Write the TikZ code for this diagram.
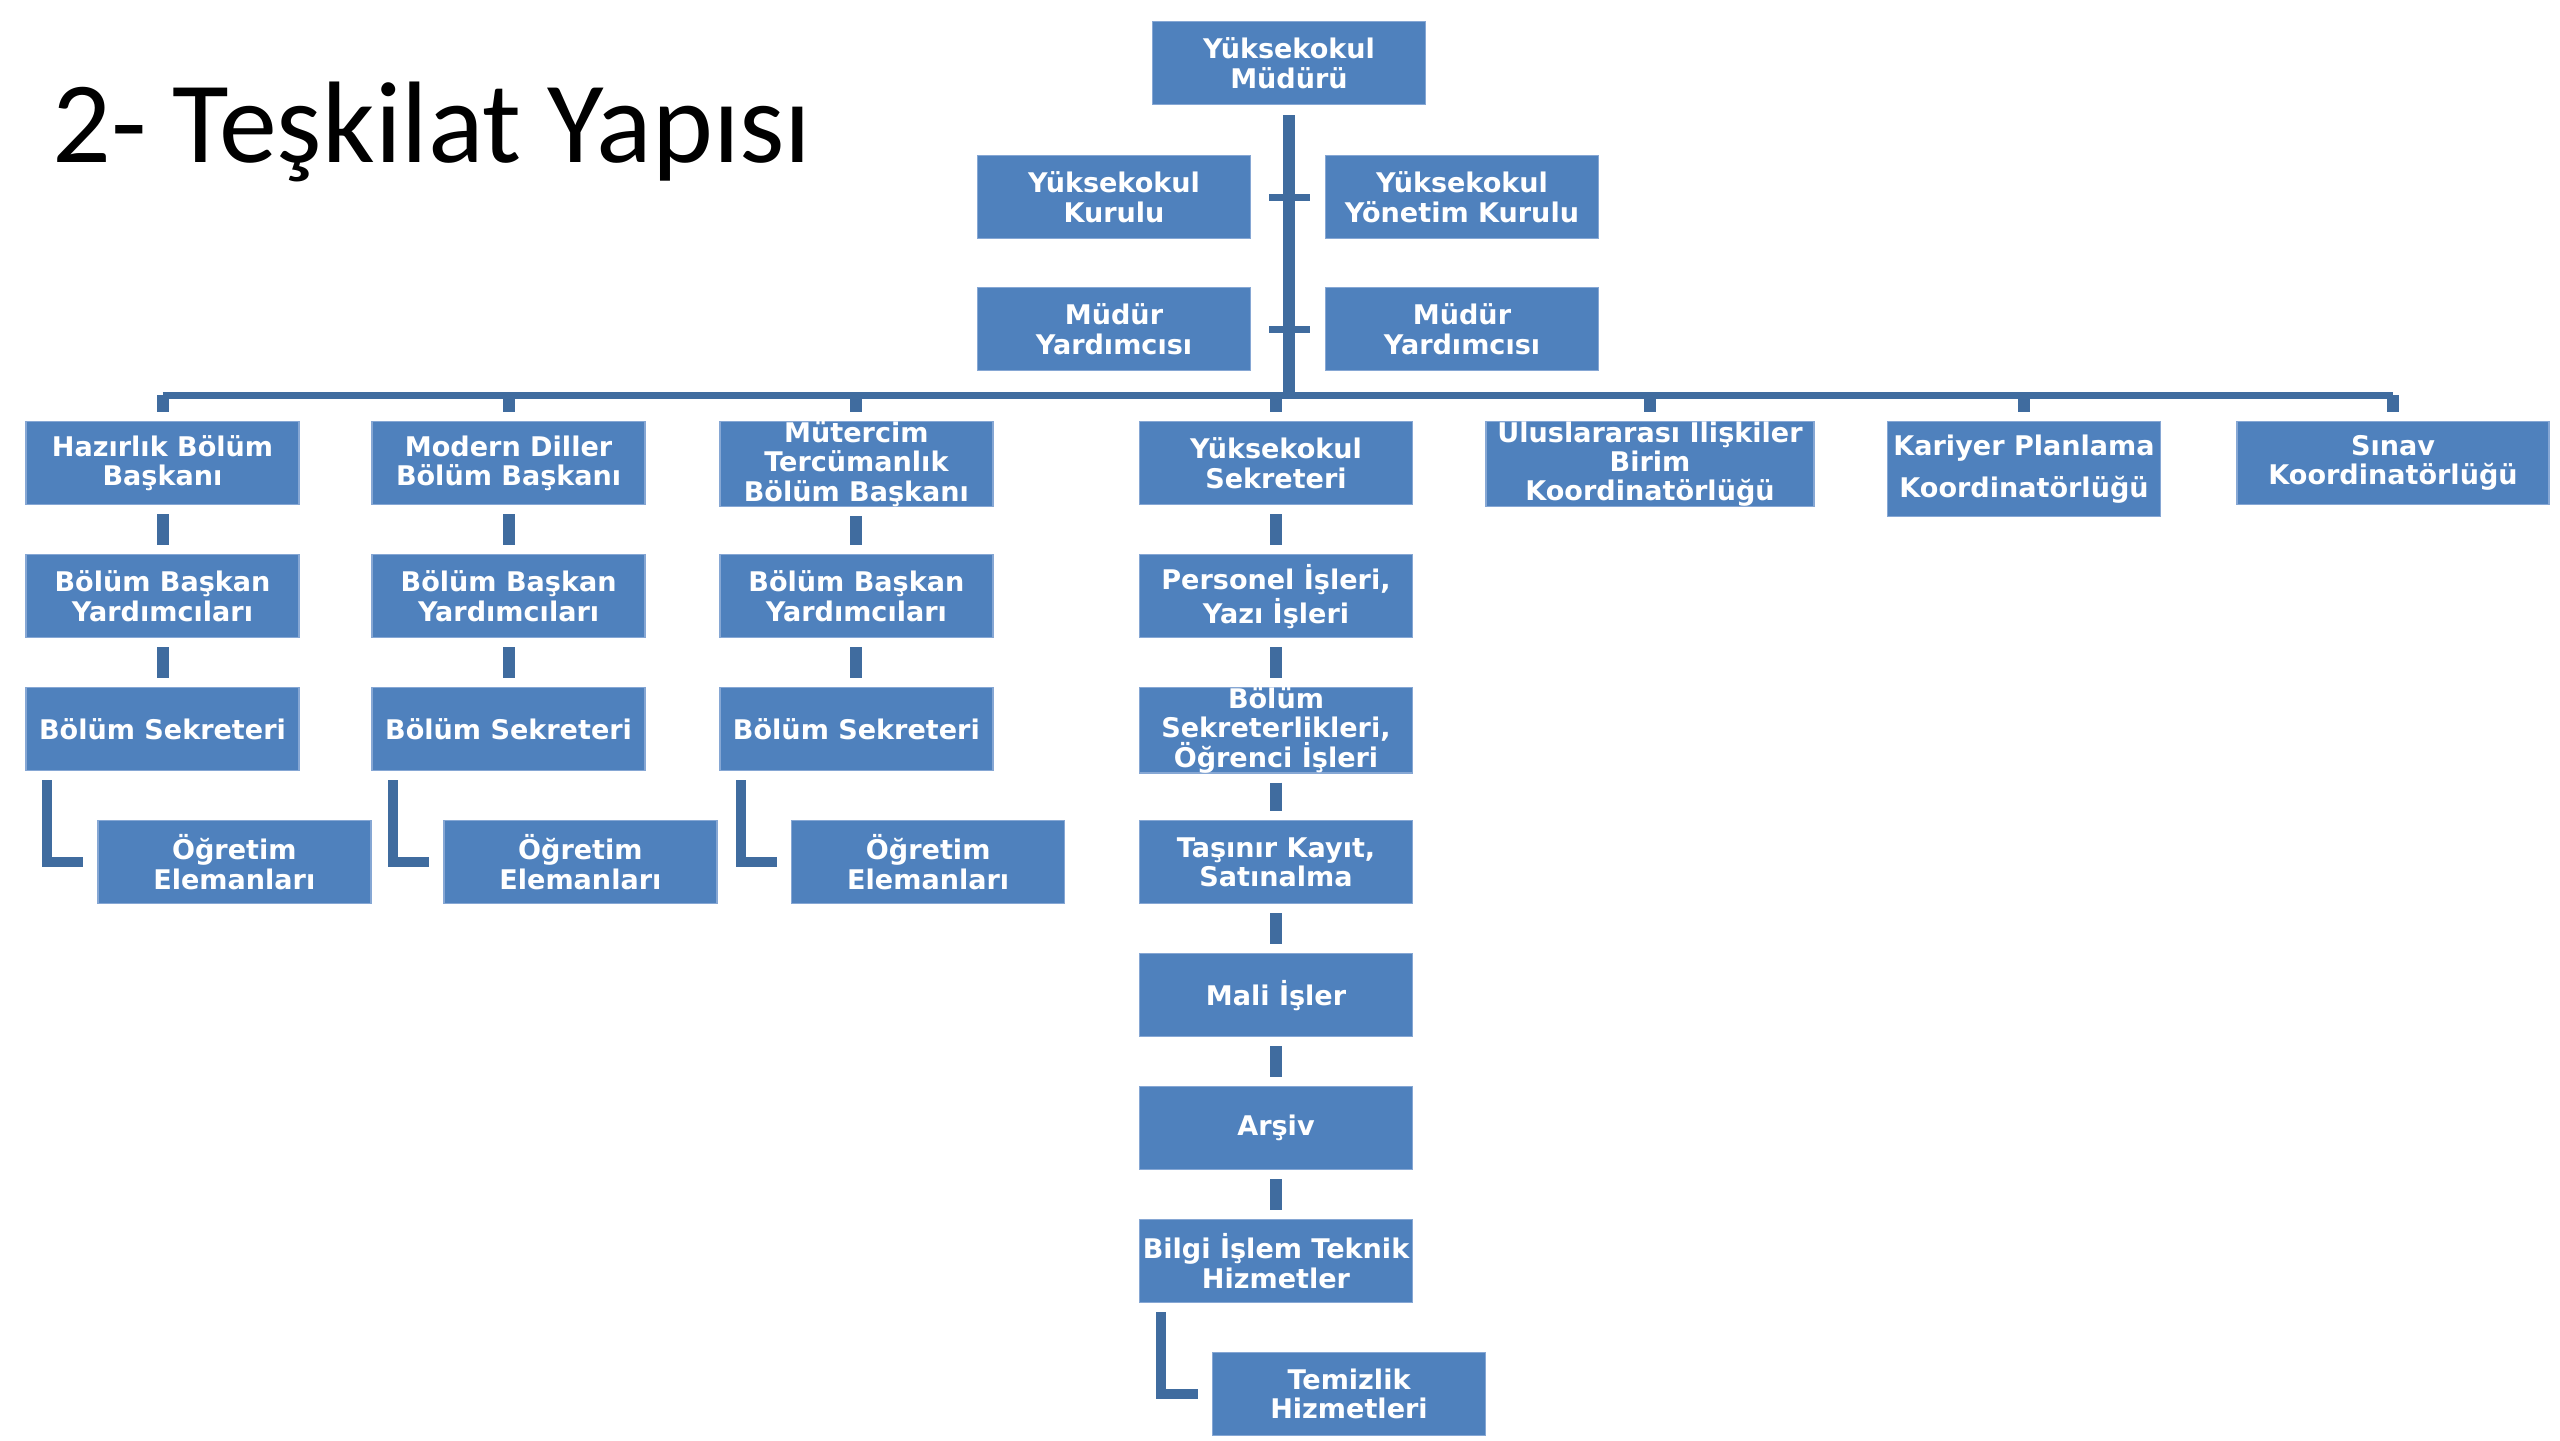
\documentclass[tikz,border=0pt]{standalone}
\usepackage{fontspec}
\usepackage{xcolor}
\newfontfamily\titlefont{Carlito}
\newfontfamily\boxfamily{DejaVu Sans}
\definecolor{boxblue}{HTML}{4F81BD}
\definecolor{boxedge}{HTML}{86A7D4}
\definecolor{linkblue}{HTML}{406C9F}
\tikzset{
  unit/.style={draw=boxedge, line width=0.4pt, fill=boxblue, text=white, align=center,
    anchor=north, inner sep=0pt, minimum width=2.73cm, minimum height=0.83cm,
    font=\boxfamily\bfseries\fontsize{7.7}{8.3}\selectfont},
  vbar/.style={draw=linkblue, line width=0.12cm},
  hbar/.style={draw=linkblue, line width=0.07cm},
  elbow/.style={draw=linkblue, line width=0.1cm},
}
\begin{document}
\begin{tikzpicture}
\useasboundingbox (0,0) rectangle (25.6,-14.4);

\node (title) at (0.40,-1.62) [anchor=base west, font=\titlefont\fontsize{33}{39}\selectfont] {2- Teşkilat Yapısı};

% top part
\node (mudur) at (12.89,-0.21) [unit] {Yüksekokul\\Müdürü};
\node (kurul) at (11.14,-1.55) [unit] {Yüksekokul\\Kurulu};
\node (yonetim) at (14.62,-1.55) [unit] {Yüksekokul\\Yönetim Kurulu};
\node (yard1) at (11.14,-2.87) [unit] {Müdür\\Yardımcısı};
\node (yard2) at (14.62,-2.87) [unit] {Müdür\\Yardımcısı};

% first row under the bus
\node (haz) at (1.625,-4.21) [unit] {Hazırlık Bölüm\\Başkanı};
\node (mod) at (5.086,-4.21) [unit] {Modern Diller\\Bölüm Başkanı};
\node (mtc) at (8.564,-4.21) [unit] {Mütercim\\Tercümanlık\\Bölüm Başkanı};
\node (ys) at (12.76,-4.21) [unit] {Yüksekokul\\Sekreteri};
\node (ul) at (16.50,-4.21) [unit, minimum width=3.28cm] {Uluslararası Ilişkiler\\Birim\\Koordinatörlüğü};
\node (kr) at (20.24,-4.21) [unit, minimum height=0.95cm] {Kariyer Planlama\\[0.12cm]Koordinatörlüğü};
\node (sn) at (23.93,-4.21) [unit, minimum width=3.12cm] {Sınav\\Koordinatörlüğü};

% departments
\node (hazy) at (1.625,-5.54) [unit] {Bölüm Başkan\\Yardımcıları};
\node (mody) at (5.086,-5.54) [unit] {Bölüm Başkan\\Yardımcıları};
\node (mtcy) at (8.564,-5.54) [unit] {Bölüm Başkan\\Yardımcıları};
\node (hazs) at (1.625,-6.87) [unit] {Bölüm Sekreteri};
\node (mods) at (5.086,-6.87) [unit] {Bölüm Sekreteri};
\node (mtcs) at (8.564,-6.87) [unit] {Bölüm Sekreteri};
\node (hazo) at (2.343,-8.20) [unit] {Öğretim\\Elemanları};
\node (modo) at (5.804,-8.20) [unit] {Öğretim\\Elemanları};
\node (mtco) at (9.282,-8.20) [unit] {Öğretim\\Elemanları};

% secretary column
\node (per) at (12.76,-5.54) [unit] {Personel İşleri,\\Yazı İşleri};
\node (bsek) at (12.76,-6.87) [unit] {Bölüm\\Sekreterlikleri,\\Öğrenci İşleri};
\node (tas) at (12.76,-8.20) [unit] {Taşınır Kayıt,\\Satınalma};
\node (mali) at (12.76,-9.53) [unit] {Mali İşler};
\node (arsiv) at (12.76,-10.86) [unit] {Arşiv};
\node (bilgi) at (12.76,-12.19) [unit] {Bilgi İşlem Teknik\\Hizmetler};
\node (temiz) at (13.49,-13.52) [unit] {Temizlik\\Hizmetleri};

% connectors
\coordinate (bus) at (12.90,-3.95);
\draw[vbar, shorten <=0.1cm] (mudur.south) -- (mudur.south |- bus);
\draw[hbar, shorten <=0.18cm, shorten >=0.15cm] (kurul.east) -- (yonetim.west);
\draw[hbar, shorten <=0.18cm, shorten >=0.15cm] (yard1.east) -- (yard2.west);
\draw[hbar] (haz.north |- bus) -- (sn.north |- bus);
\foreach \n in {haz,mod,mtc,ys,ul,kr,sn}
  \draw[vbar, shorten >=0.09cm] (\n.north |- bus) -- (\n.north);
\foreach \a/\b in {haz/hazy, hazy/hazs, mod/mody, mody/mods, mtc/mtcy, mtcy/mtcs,
                   ys/per, per/bsek, bsek/tas, tas/mali, mali/arsiv, arsiv/bilgi}
  \draw[vbar, shorten <=0.09cm, shorten >=0.09cm] (\a.south) -- (\b.north);
\foreach \a/\b in {hazs/hazo, mods/modo, mtcs/mtco, bilgi/temiz}
  \draw[elbow] ([xshift=0.22cm, yshift=-0.09cm]\a.south west) |- ([xshift=-0.14cm]\b.west);
\end{tikzpicture}
\end{document}
